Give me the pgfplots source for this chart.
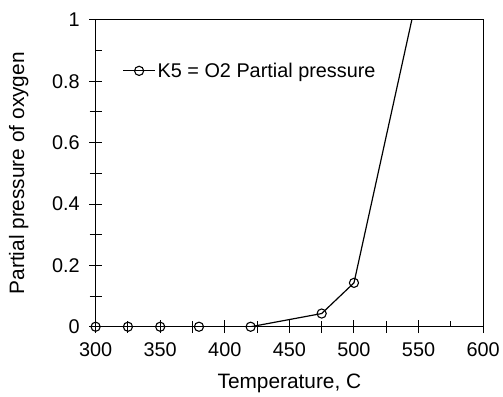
\documentclass[border=0pt]{standalone}
\usepackage{pgfplots}
\pgfplotsset{compat=1.18}
\usepackage{fontspec}
\setmainfont{Liberation Sans}
\begin{document}
\begin{tikzpicture}
\begin{axis}[
  at={(0,0)}, anchor=south west,
  scale only axis,
  width=389bp, height=308bp,
  xmin=300, xmax=600, ymin=0, ymax=1,
  xtick={300,350,...,600},
  ytick={0,0.2,...,1},
  minor x tick num=1, minor y tick num=1,
  yticklabels={0,0.2,0.4,0.6,0.8,1},
  tick pos=left,
  tick align=center,
  major tick length=13bp, minor tick length=12bp,
  every tick/.style={black, line width=1pt},
  minor tick style={shorten <=6bp},
  axis line style={line width=1pt},
  tick label style={font=\fontsize{20}{24}\selectfont},
  xticklabel style={yshift=-6bp},
  yticklabel style={xshift=-6bp},
  label style={font=\fontsize{21}{25}\selectfont},
  /pgf/number format/assume math mode=true,
  xlabel={Temperature, C},
  ylabel={Partial pressure of oxygen},
  xlabel style={at={(axis description cs:0.5,0)}, anchor=north, yshift=-44bp},
  ylabel style={at={(axis description cs:0,0.5)}, anchor=south, yshift=64bp},
  legend style={draw=none, fill=none, at={(axis description cs:0.069,0.834)}, anchor=west, font=\fontsize{20}{24}\selectfont, inner sep=0pt, nodes={inner xsep=2bp}},
  legend image code/.code={\draw[mark repeat=2,mark phase=2,#1] plot coordinates {(0bp,0bp) (16bp,0bp) (32bp,0bp)};},
  legend cell align=left,
  clip=true,
]
\addplot[black, line width=1.2pt, mark=o, mark size=4.6bp, mark options={line width=1.1pt}]
coordinates {(300,0) (325,0) (350,0) (380,0) (420,0) (475,0.043) (500,0.143) (550,1.1)};
\addlegendentry{K5 = O2 Partial pressure}
\end{axis}
\useasboundingbox (-96bp,-62bp) rectangle (407bp,328bp);
\end{tikzpicture}
\end{document}
